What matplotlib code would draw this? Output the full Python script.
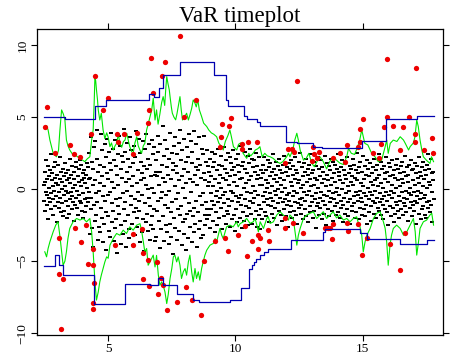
import numpy as np
import matplotlib
matplotlib.use("Agg")
import matplotlib.pyplot as plt

plt.rcParams['font.family'] = ['Liberation Serif', 'DejaVu Serif']

# daily returns (in tenths), read roughly off the cloud
returns_x10 = [
    # 2.5 - 4.3
    3, -8, 12, -15, 5, 20, -2, -11, 7, -4, 16, -21, 9, 1, -6, 13, -9, 24, -3, -14, 6, 11, -18, 2, -7,
    15, -1, 8, -12, 19, -5, 4, -23, 10, -9, 3, 17, -13, -2, 22, -6, 7, -16, 12, 0, -10, 5, -19, 14,
    -4, 9, -15, 2, 18, -8, -1, 11, -20, 6, 13, -3, -12, 8, -17, 4, 21, -7, -2, 10, -14, 16, -5, 1, -9,
    12, -22, 7, 3, -11, 15, -6, 19, -13, -1, 9, -18, 5, 14, -4, -8, 20, -10, 2, 17, -15, 6, -3, 11,
    -20, 8, 13, -7, -16, 4, 10, -12, 1, 18, -6, -9, 15, -2, 7,
    # 4.3 - 6.9
    25, -31, 8, -14, 36, -6, 19, -27, 3, -40, 14, 29, -11, -22, 6, 33, -18, -3, 41, -9, 21, -35, 12, -1, -26,
    17, 4, -30, 38, -13, 9, -20, 27, -5, -37, 15, 2, -24, 31, -8, -16, 22, -42, 11, 35, -4, -19, 7, 26, -29,
    -2, 18, -33, 13, 39, -10, -23, 5, 28, -15, -36, 20, 1, -27, 34, -7, 16, -21, 10, -44, 24, -12, 3, 37, -17,
    -6, 30, -25, 14, -38, 8, 23, -3, -31, 19, 42, -14, -9, 26, -22, 5, -40, 12, 32, -1, -18, 21, -28, 7, -34,
    15, 36, -11, -5, 27, -24, 2, -39, 18, 9, -16, 30, -7, -32, 22, -13, 40, -20, 4, -26, 13, -2, 35, -15, -8,
    25, -37, 6, 19, -30, 11, -4, 33, -21, 16, -43, 8, 28, -10, -23, 3, 38, -17, 14, -29, 0, 21, -6, 31, -35,
    -12, 17, -25, 9, 34, -19, 1, -28, 24, -3, -14, 29, -36, 10, 12,
    # 6.9 - 9.0
    20, -33, 9, -15, 37, -8, 26, -22, 3, -41, 12, 31, -6, -28, 17, -2, 44, -19, 8, -36, 23, -11, 5, 34, -25,
    -4, 15, -30, 28, -13, 10, -38, 21, -1, -24, 39, -16, 7, -33, 25, -9, 18, -45, 13, 30, -20, 2, -27, 36, -7,
    16, -35, 11, 24, -14, -3, 32, -29, 6, -18, 41, -12, 20, -39, 9, 27, -23, 1, -31, 14, 35, -6, -21, 19, -42,
    4, 29, -17, 12, -34, 22, -10, 38, -26, 7, -15, 33, -2, -37, 18, 26, -19, 5, -30, 40, -13, 10, -24, 15, -8,
    31, -40, 3, 21, -16, 13, -28, 36, -5, -22, 17, -34, 8, 28, -11, -3, 24, -32, 11, 37, -18, 6, -25, 19, -9,
    -14, 27, -21, 2, 16,
    # 9.0 - 11.0
    12, -18, 5, -27, 21, -3, 9, -14, 26, -8, -22, 15, 2, -11, 19, -30, 7, 24, -5, -16, 13, -1, -25, 28, -9,
    4, 17, -20, 10, -6, 23, -13, 1, -28, 16, -4, 8, -19, 29, -10, -2, 14, -24, 6, 20, -15, 11, -7, 25, -17,
    3, -12, 22, -26, 9, -1, 18, -21, 13, -8, 27, -3, -18, 5, 15, -29, 10, -5, 21, -14, 2, -23, 17, -9, 24,
    -6, 12, -20, 7, 30, -11, -4, 16, -27, 8, 19, -16, 1, -22, 14, -7, 26, -12, 4, -19, 11, -2, 23, -25, 6,
    -13, 18, -8, 28, -3, -17, 9, 21, -24, 2, 15, -10, -6, 20, -21, 12, -1, 25, -15, 7, -26, 16, -4, 10, -18,
    -11, 22, 3, -28, 13,
    # 11.0 - 17.8
    8, -14, 3, -21, 17, -5, 11, -9, 22, -2, -16, 6, 13, -19, 1, -7, 20, -11, 4, 15, -23, 9, -3, 18, -12,
    -6, 12, -17, 2, 24, -8, 7, -20, 14, -1, -13, 19, -4, 10, -25, 5, 16, -10, 0, 21, -15, 8, -6, 13, -18,
    3, -22, 11, -2, 17, -9, 6, -14, 23, -7, 1, -19, 12, -4, 15, -11, 9, -26, 18, -3, -8, 14, -16, 5, 20,
    -12, 2, -20, 10, -5, 16, -1, -15, 22, -9, 7, -18, 13, -3, -24, 11, 4, -10, 19, -13, 6, -7, 25, -17, 1,
    -11, 15, -6, 9, -21, 3, 18, -2, -14, 12, -8, 21, -19, 5, -4, 14, -23, 10, -1, 17, -12, 7, -16, 2, 24,
    -9, 11, -5, -20, 13, 3, -15, 19, -7, 8, -27, 16, -3, 6, -12, 22, -10, 1, -18, 14, -6, 9, -13, 20, -2,
    4, -21, 15, -8, 12, -4, -17, 7, 23, -11, 2, -25, 18, -5, 10, -14, 6, -1, 16, -19, 13, -9, 3, 21, -6,
    -15, 8, -3, 19, -22, 11, -7, 5, -12, 17, -2, -18, 14, 1, -10, 24, -16, 9, -4, 12, -20, 6, -8, 15, -13,
    0, 20, -11, 4, -23, 13, -6, 10, -17, 18, -3, 7, -14, 22, -9, 2, -19, 11, -1, 16, -7, -24, 14, 5, -12,
    9, -15, 3, 21, -5, -10, 17, -20, 8, -2, 13, -16, 6, 25, -8, -4, 11, -21, 15, -1, -13, 19, -6, 4, -18,
    12, -9, 2, 23, -14, 7, -3, -19, 16, -11, 10, -5, 20, -24, 1, 14, -7, -16, 9, -2, 18, -12, 5, -22, 11,
    -4, 15, -8, 3, -17, 21, -10, 6, -1, 13, -20, 8, -6, 17, -13, 2, 24, -15, 10, -3, -9, 19, -18, 4, -7,
    14, -11, 1, -21, 16, -5, 11, -14, 7, 22, -2, -16, 12, -8, 5, -25, 18, -4, 9, -12, 15, -1, -19, 20, -6,
    3, -13, 10, -23, 13, -3, 8, -17, 17, -9, 1, 21, -11, 6, -15, 14, -5, -20, 11, 2, -8, 16, -14, 7, -2,
    19, -18, 4, -10, 12, -6, 23, -12, 9, -1, -16, 15, -7, 5, -22, 10, -3, 17, -13, 1, 20, -9, -4, 13, -19,
    6, -11, 14, -2, -15, 18, -8, 3, -24, 11, -5, 16, -10, 8, -1, 22, -17, 4, -7, 12, -21, 9, -3, 15, -14,
    2, 19, -12, 7, -6, -18, 13, -4, 10, -20, 17, -9, 1, 24, -13, 5, -8, 14, -16, 3, 21, -11, -2, 11, -23,
    6, 12, -7,
]
t_start, t_end = 2.47, 17.78

# upper VaR (green)
up_x = [2.51, 2.58, 2.64, 2.71, 2.84, 2.97, 3.05, 3.10, 3.17, 3.24, 3.30, 3.36, 3.42, 3.49, 3.62, 3.75,
        3.89, 4.0, 4.08, 4.18, 4.28, 4.35, 4.41, 4.45, 4.48, 4.51, 4.54, 4.58, 4.61, 4.67, 4.73, 4.80,
        4.87, 4.94, 5.0, 5.07, 5.13, 5.2, 5.27, 5.33, 5.40, 5.46, 5.53, 5.60, 5.66, 5.73, 5.80, 5.85,
        5.92, 5.98, 6.05, 6.12, 6.18, 6.25, 6.31, 6.38, 6.44, 6.51, 6.57, 6.64, 6.71, 6.77, 6.84, 6.90,
        6.96, 7.03, 7.10, 7.16, 7.22, 7.26, 7.30, 7.35, 7.40, 7.43, 7.48, 7.52, 7.58, 7.65, 7.70, 7.76,
        7.82, 7.87, 7.92, 8.0, 8.08, 8.15, 8.22, 8.28, 8.34, 8.40, 8.46, 8.52, 8.58, 8.67, 8.75, 8.87,
        8.95, 9.05, 9.15, 9.26, 9.35, 9.46, 9.52, 9.60, 9.70, 9.78, 9.84, 9.92, 10.05, 10.12, 10.2, 10.3,
        10.44, 10.52, 10.6, 10.7, 10.78, 10.88, 10.96, 11.05, 11.15, 11.25, 11.36, 11.48, 11.62, 11.75,
        11.86, 12.01, 12.08, 12.14, 12.25, 12.33, 12.41, 12.47, 12.54, 12.67, 12.78, 12.88, 13.0, 13.1,
        13.2, 13.32, 13.45, 13.58, 13.7, 13.84, 13.97, 14.1, 14.24, 14.37, 14.44, 14.55, 14.68, 14.80,
        14.88, 14.96, 15.08, 15.2, 15.35, 15.48, 15.61, 15.74, 15.88, 15.94, 16.0, 16.08, 16.2, 16.34,
        16.47, 16.60, 16.67, 16.8, 16.86, 16.99, 17.05, 17.12, 17.18, 17.25, 17.32, 17.38, 17.50, 17.64,
        17.70, 17.78]
up_y = [4.21, 4.4, 4.1, 3.4, 2.48, 2.24, 2.7, 4.0, 5.49, 5.2, 4.79, 3.4, 3.0, 2.71, 2.36, 2.3,
        2.13, 2.0, 1.9, 2.1, 2.24, 3.4, 4.1, 6.0, 7.8, 7.5, 6.88, 6.2, 5.49, 4.79, 5.26, 4.1,
        3.5, 3.9, 3.6, 2.94, 3.2, 2.71, 3.0, 3.17, 3.8, 3.17, 2.9, 3.3, 3.4, 3.87, 3.3, 2.94,
        2.6, 2.48, 3.2, 3.63, 3.0, 2.7, 2.48, 3.0, 3.17, 4.1, 4.5, 5.0, 5.49, 6.3, 4.79, 5.49,
        4.5, 5.2, 6.0, 6.41, 5.8, 6.9, 7.8, 7.3, 6.88, 6.41, 5.7, 5.26, 5.0, 4.8, 5.2, 5.8,
        6.41, 5.49, 4.79, 5.0, 5.26, 4.79, 5.2, 5.6, 6.18, 6.0, 5.7, 6.18, 5.5, 5.03, 4.57, 4.34,
        4.1, 3.9, 3.8, 3.63, 3.17, 2.94, 2.71, 3.3, 3.7, 4.1, 3.63, 2.94, 2.71, 3.1, 3.2, 2.48,
        2.13, 2.48, 2.3, 2.5, 2.71, 2.8, 2.94, 2.24, 2.48, 2.3, 2.24, 2.13, 1.9, 1.78,
        1.9, 2.24, 2.48, 2.24, 2.71, 3.4, 3.87, 3.4, 2.71, 2.01, 2.13, 2.48, 1.78, 1.55,
        1.9, 2.24, 1.9, 1.4, 1.9, 2.24, 2.0, 1.8, 1.7, 2.24, 2.82, 2.48, 2.4, 2.94,
        3.4, 4.1, 3.17, 3.06, 2.48, 2.24, 1.9, 2.0, 2.94, 3.4, 2.48, 3.17, 3.4, 3.3,
        3.63, 3.4, 3.17, 2.71, 2.94, 3.2, 3.63, 4.79, 4.34, 3.4, 2.71, 2.24, 2.0, 1.78,
        2.24, 1.9]

# lower VaR (green)
lo_x = [2.51, 2.58, 2.64, 2.71, 2.84, 2.94, 3.03, 3.10, 3.17, 3.23, 3.30, 3.36, 3.42, 3.49, 3.62, 3.76,
        3.89, 4.02, 4.15, 4.28, 4.35, 4.41, 4.48, 4.54, 4.61, 4.67, 4.73, 4.80, 4.87, 4.94, 5.0, 5.07,
        5.20, 5.33, 5.46, 5.59, 5.72, 5.85, 5.98, 6.12, 6.25, 6.31, 6.38, 6.44, 6.51, 6.57, 6.64, 6.71,
        6.77, 6.84, 6.90, 6.97, 7.03, 7.10, 7.16, 7.23, 7.30, 7.36, 7.43, 7.50, 7.56, 7.62, 7.69, 7.75,
        7.82, 7.88, 7.95, 8.02, 8.08, 8.15, 8.21, 8.28, 8.34, 8.41, 8.47, 8.54, 8.60, 8.67, 8.73, 8.80,
        8.87, 9.0, 9.13, 9.20, 9.26, 9.39, 9.46, 9.52, 9.65, 9.78, 9.91, 10.04, 10.11, 10.18, 10.31, 10.44,
        10.57, 10.70, 10.77, 10.84, 10.90, 10.97, 11.10, 11.23, 11.29, 11.36, 11.49, 11.62, 11.75, 11.88,
        12.01, 12.08, 12.14, 12.27, 12.41, 12.47, 12.54, 12.67, 12.80, 12.93, 13.06, 13.19, 13.32, 13.45,
        13.58, 13.71, 13.84, 13.97, 14.1, 14.24, 14.37, 14.5, 14.63, 14.76, 14.83, 14.89, 14.96, 15.02,
        15.09, 15.16, 15.29, 15.42, 15.55, 15.68, 15.81, 15.88, 15.94, 16.0, 16.07, 16.13, 16.2, 16.33,
        16.47, 16.6, 16.73, 16.86, 16.99, 17.06, 17.12, 17.19, 17.25, 17.38, 17.51, 17.64, 17.71, 17.78]
lo_y = [-4.35, -4.7, -4.12, -3.66, -2.96, -2.5, -2.27, -3.2, -4.35, -5.28, -5.0, -4.35, -3.43, -2.73, -2.27, -2.04,
        -2.15, -2.04, -2.27, -2.04, -2.96, -4.35, -6.44, -7.7, -7.13, -6.44, -5.97, -5.51, -5.05, -4.7, -4.8, -3.89,
        -3.43, -3.08, -3.2, -2.85, -3.08, -2.62, -2.85, -2.5, -2.4, -2.85, -3.66, -4.35, -4.12, -5.28, -5.05, -4.8,
        -4.58, -5.4, -4.6, -5.97, -6.67, -6.44, -6.67, -7.13, -7.94, -7.3, -6.2, -5.5, -4.7, -4.58, -5.05, -4.7,
        -5.28, -6.2, -5.74, -5.51, -5.97, -5.05, -4.58, -5.74, -6.44, -5.51, -6.2, -5.74, -6.32, -5.51, -5.05, -4.58,
        -4.24, -3.89, -3.77, -3.43, -3.66, -2.73, -3.2, -3.43, -2.62, -2.5, -2.62, -2.27, -2.62, -2.4, -2.27, -2.04,
        -2.38, -2.27, -2.04, -2.5, -2.96, -2.27, -2.73, -2.04, -1.92, -2.38, -2.27, -1.8, -1.57, -1.8,
        -2.04, -2.15, -1.8, -2.04, -3.89, -3.2, -2.73, -2.04, -1.8, -1.68, -1.57, -2.04, -1.8, -1.57,
        -2.04, -1.8, -1.57, -2.0, -1.8, -2.15, -2.04, -2.27, -2.04, -1.92, -2.38, -2.62, -3.2, -4.35,
        -3.66, -3.2, -2.73, -2.04, -1.68, -1.57, -2.27, -2.73, -3.66, -5.28, -3.89, -3.2, -2.73, -2.5,
        -2.73, -3.2, -2.96, -2.5, -2.04, -2.96, -4.58, -3.66, -2.73, -2.27, -2.15, -1.8, -1.68, -2.5]

# step-wise VaR bounds (blue): value holds from each edge to the next
blue_up_edges = [2.47, 3.3, 4.5, 4.91, 6.61, 6.8, 6.98, 7.16, 7.82, 9.17, 9.61, 9.7, 10.32, 10.44,
                 10.83, 10.96, 11.97, 12.4, 13.06, 13.39, 14.96, 15.9, 17.12, 17.78]
blue_up_vals = [5.02, 4.86, 5.74, 6.18, 6.58, 6.37, 6.99, 7.89, 8.8, 7.89, 6.18, 5.76, 5.07, 4.86,
                4.67, 4.4, 3.29, 3.17, 2.94, 2.85, 3.3, 4.84, 5.05]
blue_lo_edges = [2.49, 2.9, 3.07, 3.23, 4.44, 5.68, 6.64, 6.97, 7.16, 7.69, 8.32, 8.58, 9.78, 10.22,
                 10.54, 10.64, 10.74, 10.8, 10.96, 11.12, 11.29, 12.2, 13.45, 13.52, 14.9, 15.16, 16.47,
                 17.52, 17.78]
blue_lo_vals = [-5.35, -4.6, -5.28, -5.93, -7.94, -6.55, -6.67, -6.2, -6.67, -7.31, -7.71, -7.8, -7.7,
                -6.83, -5.51, -5.28, -5.05, -4.86, -4.58, -4.35, -4.17, -3.54, -2.96, -2.8, -3.08, -3.43,
                -3.84, -3.56]

# exceedances (red)
red_x = [2.6, 2.51, 2.9, 3.5, 3.65, 3.9, 4.31, 4.48, 4.8, 5.0, 5.35, 5.62, 5.39, 5.98, 6.12, 6.57,
         6.61, 6.67, 6.77, 7.1, 7.23, 7.82, 7.98, 8.45, 9.42, 9.46, 9.76, 9.82, 9.39, 10.24, 10.49,
         10.86, 10.27, 11.95, 12.08, 12.22, 12.3, 12.41, 13.0, 13.03, 13.1, 13.19, 13.28, 13.84, 14.11,
         14.3, 14.4, 14.83, 14.9, 14.9, 15.0, 15.42, 15.65, 15.71, 15.85, 15.94, 15.94, 16.2, 16.47,
         16.57, 16.82, 17.05, 17.05, 17.09, 17.42, 17.71, 17.75,
         3.06, 3.69, 3.92, 4.12, 4.41, 4.21, 4.41, 3.07, 3.23, 4.45, 4.41, 4.41, 3.14, 5.26, 5.96,
         5.98, 6.34, 6.35, 6.57, 6.9, 6.38, 6.6, 6.94, 7.06, 7.14, 7.32, 7.71, 8.04, 8.3, 8.63, 8.77,
         9.19, 9.59, 9.69, 10.11, 10.37, 10.46, 10.66, 10.9, 10.9, 10.96, 11.29, 11.33, 11.95, 11.95,
         12.27, 12.67, 13.5, 13.62, 13.72, 13.84, 13.8, 14.37, 14.41, 14.83, 14.96, 15.16, 16.07,
         16.47, 16.66]
red_y = [5.67, 4.28, 2.48, 3.03, 2.45, 2.24, 3.82, 7.87, 5.51, 6.34, 3.82, 3.82, 3.24, 2.43, 3.87, 4.56,
         5.49, 9.12, 6.65, 7.87, 8.8, 10.65, 5.02, 6.18, 3.59, 4.49, 4.38, 4.9, 2.9, 3.13, 3.28,
         3.28, 2.75, 1.83, 2.78, 2.75, 2.59, 7.52, 1.97, 2.9, 2.43, 2.13, 2.59, 2.13, 2.48,
         1.9, 3.06, 2.94, 4.14, 3.28, 4.88, 2.48, 2.17, 3.13, 4.28, 5.02, 9.0, 4.4, 2.71,
         4.33, 4.98, 3.82, 3.28, 8.38, 2.71, 3.56, 2.52,
         -3.38, -2.69, -3.66, -2.5, -4.17, -5.21, -5.28, -5.9, -6.27, -6.48, -7.9, -8.33, -9.72, -3.89, -3.89,
         -3.15, -2.8, -4.42, -4.93, -5.09, -6.25, -6.71, -7.27, -6.16, -6.67, -8.4, -7.82, -6.78, -7.71, -8.7, -5.0,
         -3.61, -3.36, -4.28, -3.2, -2.57, -4.63, -3.59, -3.2, -4.19, -3.38, -2.85, -3.61, -2.69, -2.04,
         -2.38, -3.08, -2.69, -2.69, -2.69, -2.45, -3.47, -2.34, -2.92, -2.43, -4.6, -3.38, -3.84,
         -5.63, -3.08]

ret = np.array(returns_x10) / 10.0
t = np.linspace(t_start, t_end, len(ret))

fig = plt.figure(figsize=(4.58, 3.56), dpi=100)
ax = fig.add_axes([0.080, 0.059, 0.8866, 0.8595])

# small flat dash marker for the returns
dash = [(-1.5, -1), (1.5, -1), (1.5, 1), (-1.5, 1), (-1.5, -1)]
ax.plot(t, ret, ls='none', marker=dash, color='black', ms=2.3, mew=0, zorder=1)
ax.plot(up_x, up_y, color='#00e600', lw=0.8, zorder=2)
ax.plot(lo_x, lo_y, color='#00e600', lw=0.8, zorder=2)
ax.plot(red_x, red_y, 'o', color='#ee0000', ms=3.8, mew=0, zorder=3)
ax.step(blue_up_edges, blue_up_vals + blue_up_vals[-1:], where='post', color='#0000b0', lw=0.9, zorder=4)
ax.step(blue_lo_edges, blue_lo_vals + blue_lo_vals[-1:], where='post', color='#0000b0', lw=0.9, zorder=4)

ax.set_xlim(2.19, 18.14)
ax.set_ylim(-10.12, 11.1)
ax.set_xticks([5, 10, 15])
ax.set_yticks([-10, -5, 0, 5, 10])
ax.tick_params(direction='out', length=4, width=0.8, labelsize=9.5, top=True, right=True,
               labeltop=False, labelright=False, pad=2)
for lab in ax.get_yticklabels():
    lab.set_rotation(90)
    lab.set_va('center')
for s in ax.spines.values():
    s.set_linewidth(0.9)

ax.set_title('VaR timeplot', fontsize=16.5, pad=5)

fig.savefig('out.png', dpi=100)
